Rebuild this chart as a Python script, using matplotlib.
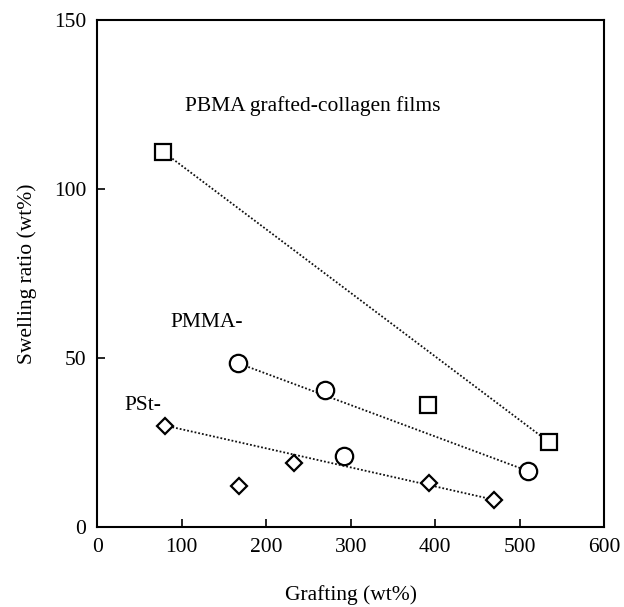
import numpy as np
import matplotlib.pyplot as plt

plt.rcParams['font.family'] = ['Liberation Serif', 'DejaVu Serif']

# PBMA grafted-collagen films (squares)
pbma_x = np.array([78, 391, 535])
pbma_y = np.array([111, 36, 25])

# PMMA- (circles)
pmma_x = np.array([166, 270, 292, 510])
pmma_y = np.array([48.5, 40.5, 21, 16.5])

# PSt- (diamonds)
pst_x = np.array([80, 168, 233, 393, 470])
pst_y = np.array([30, 12, 19, 13, 8])

fig = plt.figure(figsize=(6.24, 6.07), dpi=100)
ax = fig.add_axes([0.156, 0.132, 0.8125, 0.835])

mk = dict(linestyle="none", markerfacecolor="white", markeredgecolor="black",
          markeredgewidth=1.6, zorder=3)
line = dict(color="#111111", linestyle=(0, (1, 1.1)), linewidth=1.3, zorder=2)

# trend lines: first to last point of each series
for xs, ys in [(pbma_x, pbma_y), (pmma_x, pmma_y), (pst_x, pst_y)]:
    ax.plot(xs[[0, -1]], ys[[0, -1]], **line)

ax.plot(pbma_x, pbma_y, marker="s", markersize=12, **mk)
ax.plot(pmma_x, pmma_y, marker="o", markersize=12.5, **mk)
ax.plot(pst_x, pst_y, marker="D", markersize=8.5, **mk)

fs = 15.5
ax.text(104, 124.5, "PBMA grafted-collagen films", fontsize=fs, va="center")
ax.text(86, 60.5, "PMMA-", fontsize=fs, va="center")
ax.text(32, 36, "PSt-", fontsize=fs, va="center")

ax.set_xlim(0, 600)
ax.set_ylim(0, 150)
ax.set_xticks(np.arange(0, 601, 100))
ax.set_yticks([0, 50, 100, 150])
ax.tick_params(direction="in", length=6, width=1.2, labelsize=fs, pad=8)
for s in ax.spines.values():
    s.set_linewidth(1.5)

ax.set_xlabel("Grafting (wt%)", fontsize=fs, labelpad=20)
ax.set_ylabel("Swelling ratio (wt%)", fontsize=fs, labelpad=12)

fig.savefig("out.png", dpi=100)
